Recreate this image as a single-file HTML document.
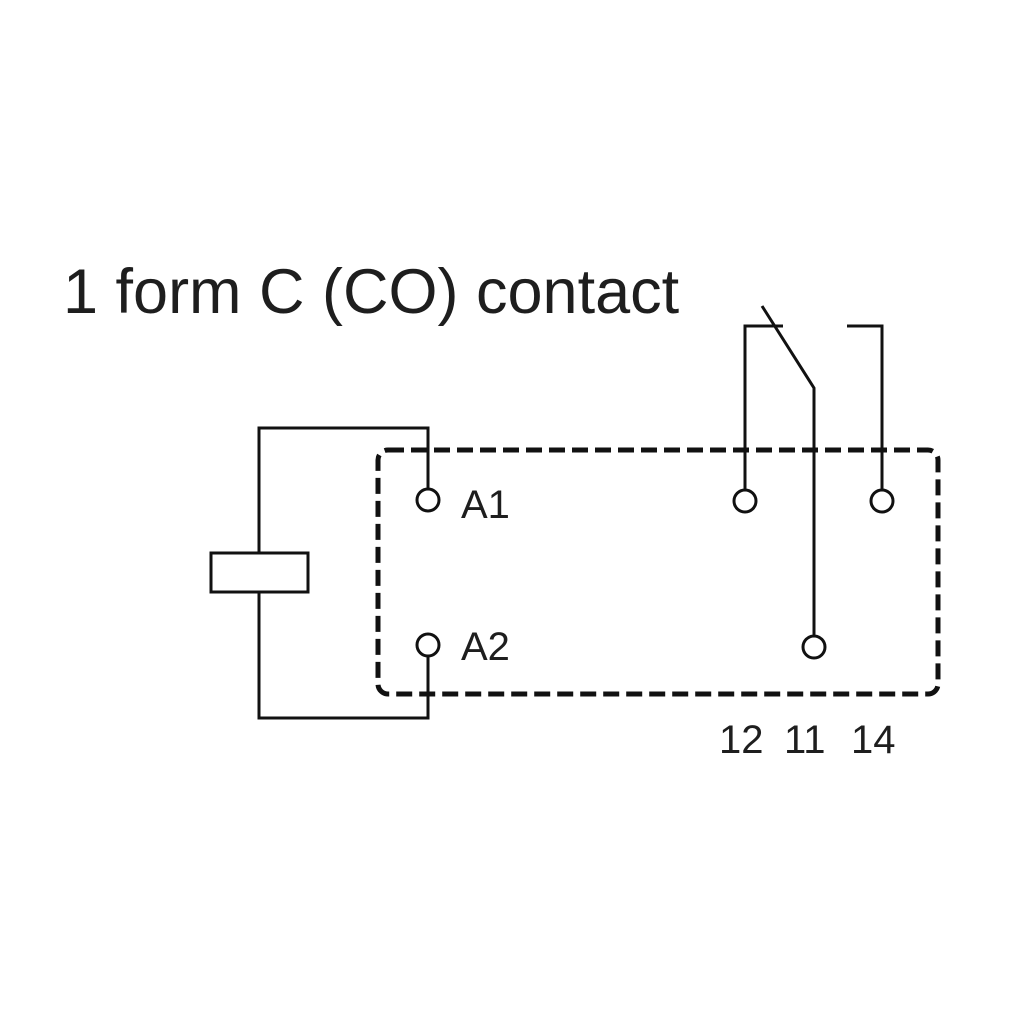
<!DOCTYPE html>
<html>
<head>
<meta charset="utf-8">
<style>
  html,body{margin:0;padding:0;background:#fff;}
  svg{display:block;}
  text{font-family:"Liberation Sans",Arial,sans-serif;fill:#1e1e1e;}
</style>
</head>
<body>
<svg width="1024" height="1024" viewBox="0 0 1024 1024" xmlns="http://www.w3.org/2000/svg">
  <rect width="1024" height="1024" fill="#fff"/>
  <text x="63" y="313" font-size="63">1 form C (CO) contact</text>

  <!-- dashed enclosure -->
  <rect x="378" y="450" width="560" height="244" rx="10" ry="10" fill="none" stroke="#111" stroke-width="5" stroke-dasharray="16 7"/>

  <g fill="none" stroke="#111" stroke-width="3">
    <!-- coil wiring -->
    <polyline points="428,488 428,428 259,428 259,553"/>
    <polyline points="259,592 259,718 428,718 428,657"/>
    <rect x="211" y="553" width="97" height="39"/>
    <circle cx="428" cy="500" r="11"/>
    <circle cx="428" cy="645" r="11"/>

    <!-- contacts -->
    <polyline points="745,489 745,326 783,326"/>
    <polyline points="847,326 882,326 882,489"/>
    <polyline points="762,306 814,388 814,635"/>
    <circle cx="745" cy="501" r="11"/>
    <circle cx="882" cy="501" r="11"/>
    <circle cx="814" cy="647" r="11"/>
  </g>

  <text x="461" y="518" font-size="40">A1</text>
  <text x="461" y="660" font-size="40">A2</text>
  <text x="719" y="753" font-size="40">12</text>
  <text x="784" y="753" font-size="40">11</text>
  <text x="851" y="753" font-size="40">14</text>
</svg>
</body>
</html>
